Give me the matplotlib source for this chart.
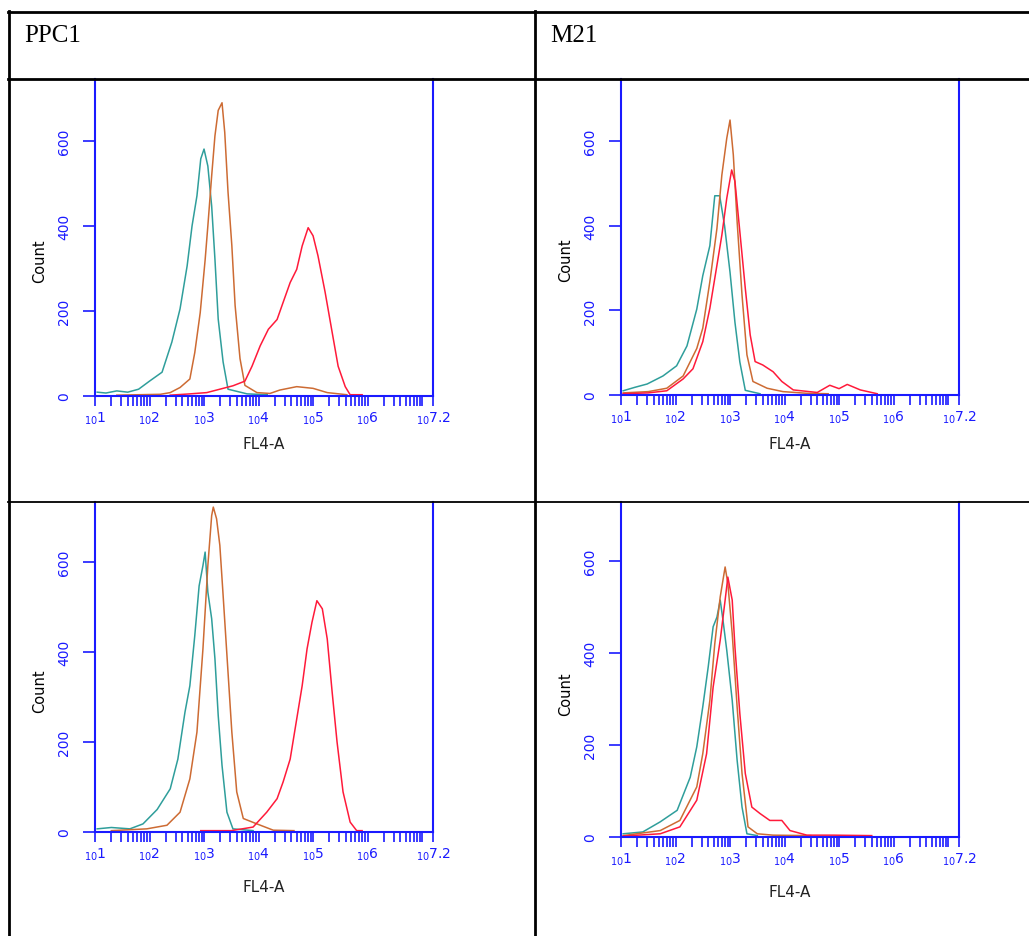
import numpy as np
import matplotlib.pyplot as plt
from matplotlib.lines import Line2D
from matplotlib.ticker import FixedLocator, LogLocator, NullFormatter

# Column titles of the table
col_titles = ["PPC1", "M21"]

# Histogram curves: log10(FL4-A) and Count
# PPC1, top
ppc1_top_teal_lx = [1.04, 1.2, 1.4, 1.6, 1.8, 2.0, 2.23, 2.41, 2.56, 2.69, 2.78, 2.87, 2.94, 3.0, 3.07, 3.14, 3.2, 3.26, 3.35, 3.44, 3.79, 4.16]
ppc1_top_teal_n = [9, 7, 12, 9, 16, 35, 56, 127, 205, 306, 400, 471, 558, 581, 541, 447, 322, 181, 80, 16, 5, 3]
ppc1_top_orange_lx = [1.4, 1.8, 2.2, 2.38, 2.56, 2.74, 2.83, 2.93, 3.02, 3.07, 3.14, 3.2, 3.26, 3.33, 3.38, 3.44, 3.51, 3.57, 3.66, 3.75, 3.97, 4.21, 4.39, 4.7, 5.0, 5.26, 5.62]
ppc1_top_orange_n = [2, 3, 4, 8, 20, 40, 102, 196, 320, 400, 518, 612, 672, 690, 620, 480, 354, 213, 88, 25, 8, 6, 14, 22, 18, 8, 3]
ppc1_top_red_lx = [2.38, 2.74, 3.05, 3.29, 3.53, 3.75, 3.88, 4.03, 4.18, 4.34, 4.45, 4.58, 4.7, 4.8, 4.91, 5.0, 5.09, 5.22, 5.35, 5.46, 5.59, 5.68, 5.9]
ppc1_top_red_n = [2, 5, 8, 16, 24, 35, 70, 118, 157, 180, 220, 267, 298, 353, 396, 377, 330, 245, 150, 70, 22, 3, 3]

# M21, top
m21_top_teal_lx = [1.04, 1.25, 1.48, 1.77, 2.02, 2.21, 2.39, 2.5, 2.63, 2.72, 2.81, 2.9, 3.0, 3.09, 3.18, 3.28, 3.55]
m21_top_teal_n = [10, 18, 26, 45, 69, 116, 203, 282, 353, 471, 471, 400, 290, 172, 78, 11, 3]
m21_top_orange_lx = [1.04, 1.5, 1.84, 2.14, 2.39, 2.5, 2.63, 2.76, 2.85, 2.94, 3.0, 3.06, 3.13, 3.22, 3.31, 3.42, 3.68, 3.97, 4.41, 4.8]
m21_top_orange_n = [5, 8, 16, 45, 110, 158, 268, 394, 520, 607, 650, 568, 410, 236, 95, 32, 16, 8, 4, 3]
m21_top_red_lx = [1.04, 1.5, 1.84, 2.14, 2.32, 2.5, 2.63, 2.76, 2.85, 2.94, 3.03, 3.09, 3.18, 3.28, 3.37, 3.46, 3.6, 3.79, 3.95, 4.16, 4.6, 4.83, 5.0, 5.15, 5.39, 5.7]
m21_top_red_n = [3, 5, 10, 38, 62, 126, 205, 307, 378, 465, 532, 505, 386, 252, 142, 79, 71, 55, 32, 12, 6, 23, 15, 25, 12, 3]

# PPC1, bottom
ppc1_bot_teal_lx = [1.04, 1.3, 1.64, 1.88, 2.14, 2.38, 2.52, 2.65, 2.74, 2.83, 2.91, 2.98, 3.02, 3.07, 3.14, 3.2, 3.26, 3.33, 3.42, 3.53, 3.9]
ppc1_bot_teal_n = [7, 10, 7, 18, 50, 96, 162, 266, 325, 436, 547, 592, 622, 533, 474, 385, 259, 148, 44, 7, 3]
ppc1_bot_orange_lx = [1.3, 1.95, 2.32, 2.56, 2.74, 2.87, 2.98, 3.07, 3.14, 3.17, 3.23, 3.29, 3.35, 3.42, 3.51, 3.6, 3.72, 3.97, 4.27, 4.65]
ppc1_bot_orange_n = [3, 7, 15, 44, 118, 222, 407, 592, 703, 722, 696, 637, 526, 393, 222, 89, 30, 18, 4, 3]
ppc1_bot_red_lx = [2.94, 3.5, 3.9, 4.15, 4.34, 4.45, 4.58, 4.7, 4.8, 4.89, 4.98, 5.07, 5.17, 5.26, 5.35, 5.44, 5.55, 5.68, 5.8, 5.9]
ppc1_bot_red_n = [3, 3, 11, 44, 74, 111, 162, 251, 325, 407, 466, 514, 496, 429, 311, 200, 89, 22, 3, 3]

# M21, bottom
m21_bot_teal_lx = [1.04, 1.4, 1.72, 2.03, 2.27, 2.39, 2.5, 2.6, 2.69, 2.76, 2.82, 2.87, 2.94, 3.04, 3.13, 3.22, 3.31, 3.5]
m21_bot_teal_n = [7, 11, 33, 58, 130, 196, 283, 370, 457, 478, 515, 472, 406, 297, 167, 65, 7, 3]
m21_bot_orange_lx = [1.04, 1.72, 2.08, 2.39, 2.5, 2.63, 2.72, 2.82, 2.91, 2.96, 3.04, 3.13, 3.22, 3.33, 3.5, 3.79, 4.48]
m21_bot_orange_n = [3, 14, 36, 109, 181, 297, 420, 522, 587, 551, 442, 283, 138, 22, 7, 4, 3]
m21_bot_red_lx = [1.04, 1.72, 2.08, 2.39, 2.57, 2.69, 2.82, 2.91, 2.96, 3.04, 3.09, 3.18, 3.28, 3.4, 3.55, 3.73, 3.95, 4.1, 4.41, 4.9, 5.6]
m21_bot_red_n = [2, 7, 22, 80, 181, 326, 428, 515, 565, 515, 413, 268, 138, 65, 51, 36, 36, 14, 4, 4, 3]

panels = [
    # left, right, baseline, top (pixels), curves
    (95, 433, 397, 80, [(ppc1_top_teal_lx, ppc1_top_teal_n), (ppc1_top_orange_lx, ppc1_top_orange_n), (ppc1_top_red_lx, ppc1_top_red_n)]),
    (621, 959, 396, 80, [(m21_top_teal_lx, m21_top_teal_n), (m21_top_orange_lx, m21_top_orange_n), (m21_top_red_lx, m21_top_red_n)]),
    (95, 433, 833, 503, [(ppc1_bot_teal_lx, ppc1_bot_teal_n), (ppc1_bot_orange_lx, ppc1_bot_orange_n), (ppc1_bot_red_lx, ppc1_bot_red_n)]),
    (621, 959, 838, 503, [(m21_bot_teal_lx, m21_bot_teal_n), (m21_bot_orange_lx, m21_bot_orange_n), (m21_bot_red_lx, m21_bot_red_n)]),
]
px_per_count = [0.425, 0.423, 0.45, 0.46]
xlabel_y = [-0.127, -0.13, -0.142, -0.14]

colors = ["#2f9e9b", "#cd6b33", "#ff1a3a"]
blue = "#1a1aff"

W, H = 1029, 937
fig = plt.figure(figsize=(W / 100, H / 100), dpi=100)

major = [10.0 ** k for k in range(1, 7)] + [10 ** 7.2]
major_labels = [r"${}_{10}$" + str(k) for k in range(1, 7)] + [r"${}_{10}$7.2"]

for i, (l, r, base, top, curves) in enumerate(panels):
    ax = fig.add_axes([l / W, 1 - base / H, (r - l) / W, (base - top) / H])
    for (lx, n), c in zip(curves, colors):
        ax.plot(10 ** np.array(lx), n, color=c, lw=1.1)
    ax.set_xscale("log")
    ax.set_xlim(10, 10 ** 7.2)
    ax.set_ylim(0, (base - top) / px_per_count[i])
    ax.xaxis.set_major_locator(FixedLocator(major))
    ax.xaxis.set_ticklabels(major_labels)
    ax.xaxis.set_minor_locator(LogLocator(base=10, subs=np.arange(1, 10), numticks=30))
    ax.xaxis.set_minor_formatter(NullFormatter())
    ax.set_yticks([0, 200, 400, 600])
    for s in ["left", "right", "bottom"]:
        ax.spines[s].set_color(blue)
        ax.spines[s].set_linewidth(1.5)
    ax.spines["top"].set_visible(False)
    ax.tick_params(axis="x", which="both", direction="out", length=7.5, width=1.2,
                   color=blue, labelcolor=blue, labelsize=10, pad=2)
    ax.tick_params(axis="y", direction="out", length=9, width=1.2, color=blue,
                   labelcolor=blue, labelsize=10, pad=8, labelrotation=90)
    plt.setp(ax.get_yticklabels(), va="center")
    ax.set_ylabel("Count", fontsize=10.5, color="black")
    ax.yaxis.set_label_coords(-0.142, 0.43)
    ax.set_xlabel("FL4-A", fontsize=11, color="#222222")
    ax.xaxis.set_label_coords(0.5, xlabel_y[i])
    ax.patch.set_alpha(0)

# table grid
def hline(y, x0, x1, lw=2):
    fig.add_artist(Line2D([x0 / W, x1 / W], [1 - y / H, 1 - y / H], color="black", lw=lw))

def vline(x, y0, y1, lw=2):
    fig.add_artist(Line2D([x / W, x / W], [1 - y0 / H, 1 - y1 / H], color="black", lw=lw))

hline(12.5, 8, W)
hline(79.5, 8, W)
hline(502.5, 8, W, lw=1.3)
vline(8.5, 12, H)
vline(535, 12, H)

fig.text(24 / W, 1 - 42 / H, col_titles[0], fontsize=18, family="Liberation Serif", va="baseline")
fig.text(550 / W, 1 - 42 / H, col_titles[1], fontsize=18, family="Liberation Serif", va="baseline")

fig.savefig("out.png", dpi=100)
